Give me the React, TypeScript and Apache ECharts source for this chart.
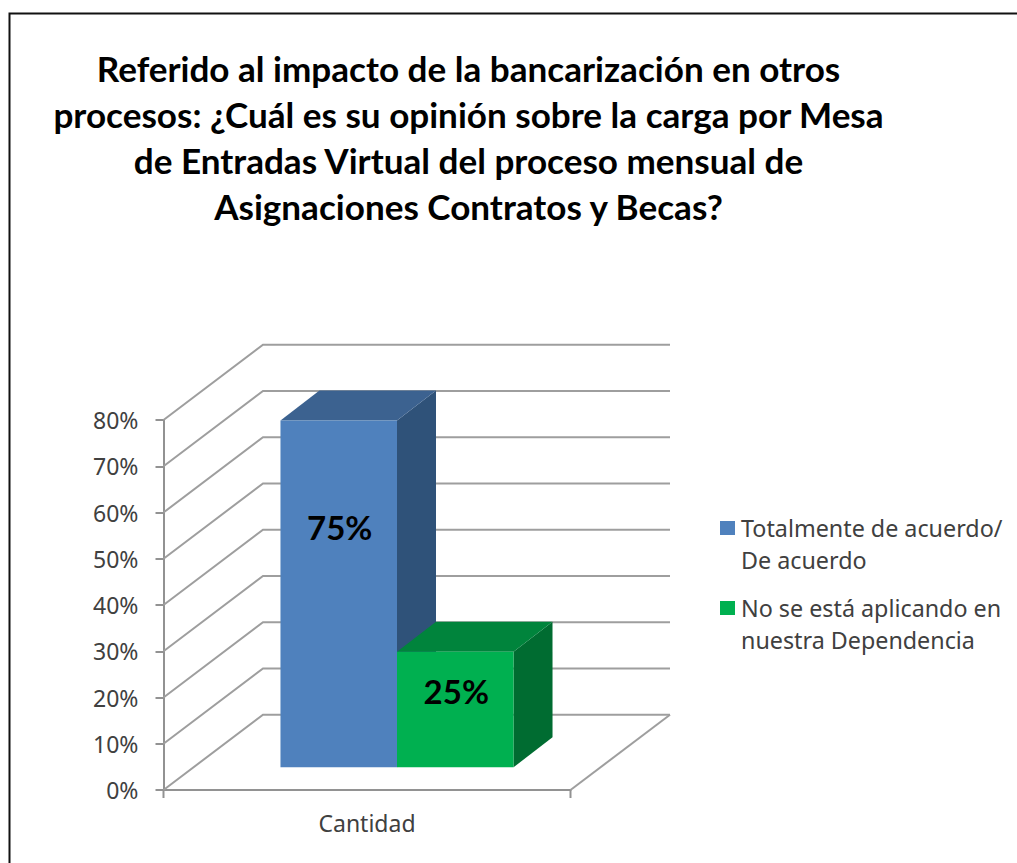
import React, { useEffect, useRef } from "react";
import * as echarts from "echarts";

const titleLines = [
  "Referido al impacto de la bancarización en otros",
  "procesos: ¿Cuál es su opinión sobre la carga por Mesa",
  "de Entradas Virtual del proceso mensual de",
  "Asignaciones Contratos y Becas?",
];
const categories = ["Cantidad"];
const seriesNames = [
  "Totalmente de acuerdo/\nDe acuerdo",
  "No se está aplicando en\nnuestra Dependencia",
];
const seriesValues = [75, 25];
const axisTicks = [0, 10, 20, 30, 40, 50, 60, 70, 80];
const frontColors = ["#4f81bd", "#00b050"];
const topColors = ["#3c6290", "#00843c"];
const sideColors = ["#2f5279", "#006c31"];

const GRID = "#9e9e9e";
const AXIS = "#929292";
const TEXT = "#404040";
const LABEL_FONT = "Noto Sans";

// projection of the 3D box
const WALL_DX = 99.5;
const WALL_DY = -75.3;
const BAR_DX = 30;
const BAR_DY = -22.7;
const DEPTH_DX = 39;
const DEPTH_DY = -30;
const BAR_FRACTION = 0.2863;

function renderWalls(_params: any, api: any) {
  const v = api.value(1);
  const [cx, y] = api.coord([0, v]);
  const w = api.size([1, 0])[0];
  const x0 = cx - w / 2;
  const x1 = cx + w / 2;
  const children: any[] = [
    {
      type: "polyline",
      shape: {
        points: [
          [x0, y],
          [x0 + WALL_DX, y + WALL_DY],
          [x1 + WALL_DX, y + WALL_DY],
        ],
      },
      style: { stroke: GRID, lineWidth: 2, fill: "none" },
    },
  ];
  if (v === 0) {
    children.push(
      {
        type: "line",
        shape: { x1: x1, y1: y, x2: x1 + WALL_DX, y2: y + WALL_DY },
        style: { stroke: GRID, lineWidth: 2 },
      },
      {
        type: "line",
        shape: { x1: x0, y1: y, x2: x0, y2: y + 8 },
        style: { stroke: AXIS, lineWidth: 2 },
      },
      {
        type: "line",
        shape: { x1: x1, y1: y, x2: x1, y2: y + 8 },
        style: { stroke: AXIS, lineWidth: 2 },
      }
    );
  }
  return { type: "group", children };
}

function makeBar(index: number) {
  return (_params: any, api: any) => {
    const v = api.value(1);
    const [cx, yTop0] = api.coord([0, v]);
    const [, yBase0] = api.coord([0, 0]);
    const w = api.size([1, 0])[0] * BAR_FRACTION;
    const x0 = cx + (index - 1) * w + BAR_DX;
    const x1 = x0 + w;
    const yBase = yBase0 + BAR_DY;
    const yTop = yTop0 + BAR_DY;
    const h = yBase - yTop;
    return {
      type: "group",
      children: [
        {
          type: "polygon",
          shape: {
            points: [
              [x1, yTop],
              [x1 + DEPTH_DX, yTop + DEPTH_DY],
              [x1 + DEPTH_DX, yBase + DEPTH_DY],
              [x1, yBase],
            ],
          },
          style: { fill: sideColors[index] },
        },
        {
          type: "polygon",
          shape: {
            points: [
              [x0, yTop],
              [x0 + DEPTH_DX, yTop + DEPTH_DY],
              [x1 + DEPTH_DX, yTop + DEPTH_DY],
              [x1, yTop],
            ],
          },
          style: { fill: topColors[index] },
        },
        {
          type: "rect",
          shape: { x: x0, y: yTop, width: w, height: h },
          style: { fill: frontColors[index] },
        },
        {
          type: "text",
          x: (x0 + x1) / 2 + 1,
          y: yTop + 5 + 0.294 * h,
          style: {
            text: v + "%",
            fill: "#000000",
            font: "700 33px Lato",
            align: "center",
            verticalAlign: "middle",
          },
        },
      ],
    };
  };
}

export default function App() {
  const ref = useRef<HTMLDivElement>(null);
  useEffect(() => {
    const chart = echarts.init(ref.current!, null, { renderer: "svg" });
    chart.setOption({
      animation: false,
      backgroundColor: "#ffffff",
      title: {
        text: titleLines.join("\n"),
        left: 463.5,
        top: 40,
        textAlign: "center",
        textStyle: {
          fontFamily: "Lato",
          fontWeight: 700,
          fontSize: 35.1,
          lineHeight: 46,
          color: "#000000",
        },
      },
      grid: { left: 163.5, top: 420, width: 407, height: 370 },
      legend: {
        orient: "vertical",
        left: 720,
        top: 480,
        icon: "rect",
        itemWidth: 15,
        itemHeight: 14,
        itemGap: -16,
        padding: 0,
        data: seriesNames,
        selectedMode: false,
        formatter: (name: string) => "\n" + name,
        textStyle: {
          fontFamily: LABEL_FONT,
          fontSize: 23.3,
          lineHeight: 32,
          color: TEXT,
          padding: [0, 0, 0, 1],
        },
      },
      xAxis: {
        type: "category",
        data: categories,
        axisLine: { lineStyle: { color: AXIS, width: 2 } },
        axisTick: { show: false },
        axisLabel: { fontFamily: LABEL_FONT, fontSize: 23, color: TEXT, margin: 21 },
      },
      yAxis: {
        type: "value",
        min: 0,
        max: 80,
        interval: 10,
        splitLine: { show: false },
        axisLine: { show: true, lineStyle: { color: AXIS, width: 2 } },
        axisTick: { show: true, length: 8, lineStyle: { color: AXIS, width: 2 } },
        axisLabel: {
          formatter: "{value}%",
          fontFamily: LABEL_FONT,
          fontSize: 23,
          color: TEXT,
          margin: 25,
        },
      },
      graphic: [
        {
          type: "polyline",
          shape: { points: [[9.5, 863], [9.5, 13.5], [1017, 13.5]] },
          style: { stroke: "#111111", lineWidth: 2, fill: "none" },
        },
      ],
      series: [
        {
          type: "custom",
          name: "walls",
          silent: true,
          clip: false,
          z: 1,
          renderItem: renderWalls,
          data: axisTicks.map((t) => [0, t]),
        },
        ...seriesValues.map((v, i) => ({
          type: "custom",
          name: seriesNames[i],
          clip: false,
          z: 3 + i,
          itemStyle: { color: frontColors[i] },
          renderItem: makeBar(i),
          data: [[0, v]],
        })),
      ],
    });
    return () => chart.dispose();
  }, []);
  return (
    <div
      ref={ref}
      style={{ position: "fixed", left: 0, top: 0, width: 1017, height: 863 }}
    />
  );
}
